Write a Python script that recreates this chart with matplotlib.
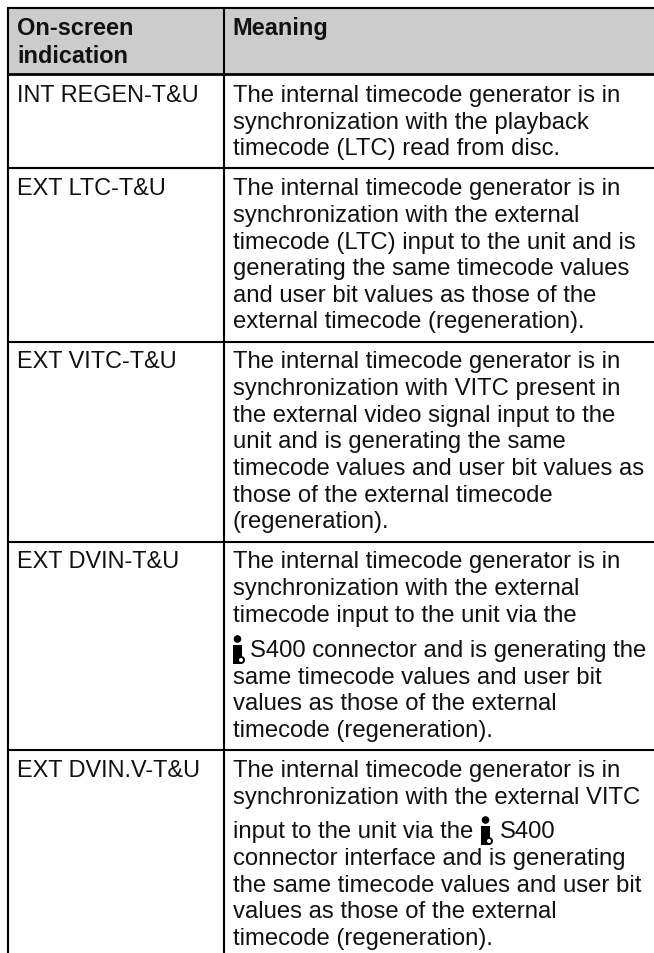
"""Recreates the on-screen indication / meaning table."""
import matplotlib
matplotlib.use("Agg")
import matplotlib.pyplot as plt
from matplotlib.patches import Circle, Rectangle

plt.rcParams["font.family"] = ["Liberation Sans", "DejaVu Sans"]

W, H = 654, 954
LEFT_SIZE = 16.95
RIGHT_SIZE = 17.2

# table text
headers = [["On-screen", "indication"], ["Meaning"]]
indications = ["INT REGEN-T&U", "EXT LTC-T&U", "EXT VITC-T&U", "EXT DVIN-T&U", "EXT DVIN.V-T&U"]
meanings = [
    ["The internal timecode generator is in",
     "synchronization with the playback",
     "timecode (LTC) read from disc."],
    ["The internal timecode generator is in",
     "synchronization with the external",
     "timecode (LTC) input to the unit and is",
     "generating the same timecode values",
     "and user bit values as those of the",
     "external timecode (regeneration)."],
    ["The internal timecode generator is in",
     "synchronization with VITC present in",
     "the external video signal input to the",
     "unit and is generating the same",
     "timecode values and user bit values as",
     "those of the external timecode",
     "(regeneration)."],
    ["The internal timecode generator is in",
     "synchronization with the external",
     "timecode input to the unit via the",
     "S400 connector and is generating the",
     "same timecode values and user bit",
     "values as those of the external",
     "timecode (regeneration)."],
    ["The internal timecode generator is in",
     "synchronization with the external VITC",
     "input to the unit via the",
     "connector interface and is generating",
     "the same timecode values and user bit",
     "values as those of the external",
     "timecode (regeneration)."],
]

# row edges and column edges, in pixels (the table runs off the right side)
row_edges = [9, 75, 168.5, 342.5, 542.5, 750.5]
col_edges = [7.5, 224]
# baseline of each text line
baselines = [
    [102, 129, 155],
    [195, 222, 249, 275, 302, 328],
    [368, 395, 422, 448, 475, 502, 528],
    [568, 595, 622, 657, 684, 710, 737],
    [777, 804, 838, 865, 892, 918, 945],
]

fig = plt.figure(figsize=(W / 100, H / 100), dpi=100)
ax = fig.add_axes([0, 0, 1, 1])
ax.set_xlim(0, W)
ax.set_ylim(H, 0)
ax.axis("off")

# header background
ax.add_patch(Rectangle((col_edges[0], row_edges[0]), W - col_edges[0],
                       row_edges[1] - row_edges[0], color="#cccccc", lw=0))

for i, y in enumerate(row_edges):
    ax.plot([col_edges[0] - 1, W], [y, y], color="black",
            lw=2.0 if i == 1 else 1.5, solid_capstyle="butt")
for x in col_edges:
    ax.plot([x, x], [row_edges[0], H], color="black", lw=1.5, solid_capstyle="butt")


def put(x, y, s, size=RIGHT_SIZE, **kw):
    ax.text(x, y, s, fontsize=size, color="#111111", va="baseline", ha="left", **kw)


def link_icon(x, baseline):
    # small i.LINK style glyph that sits inline with the text
    ax.add_patch(Circle((x + 4.5, baseline - 17), 3.8, color="black", lw=0))
    ax.add_patch(Rectangle((x, baseline - 11), 9, 19, color="black", lw=0))
    ax.add_patch(Circle((x + 8, baseline + 4), 3, facecolor="white", edgecolor="black", lw=1.4))


put(17, 35, headers[0][0], size=LEFT_SIZE, fontweight="bold")
put(17, 63, headers[0][1], size=LEFT_SIZE, fontweight="bold")
put(232.5, 35, headers[1][0], size=LEFT_SIZE, fontweight="bold")

for name, lines, ys in zip(indications, meanings, baselines):
    put(17, ys[0], name, size=LEFT_SIZE)
    for i, line in enumerate(lines):
        if name == "EXT DVIN-T&U" and i == 3:
            link_icon(233, ys[i])
            put(250.5, ys[i], line)
        elif name == "EXT DVIN.V-T&U" and i == 2:
            put(233, ys[i], line)
            link_icon(481, ys[i])
            put(499.5, ys[i], "S400")
        else:
            put(233, ys[i], line)

fig.savefig("out.png", dpi=100)
